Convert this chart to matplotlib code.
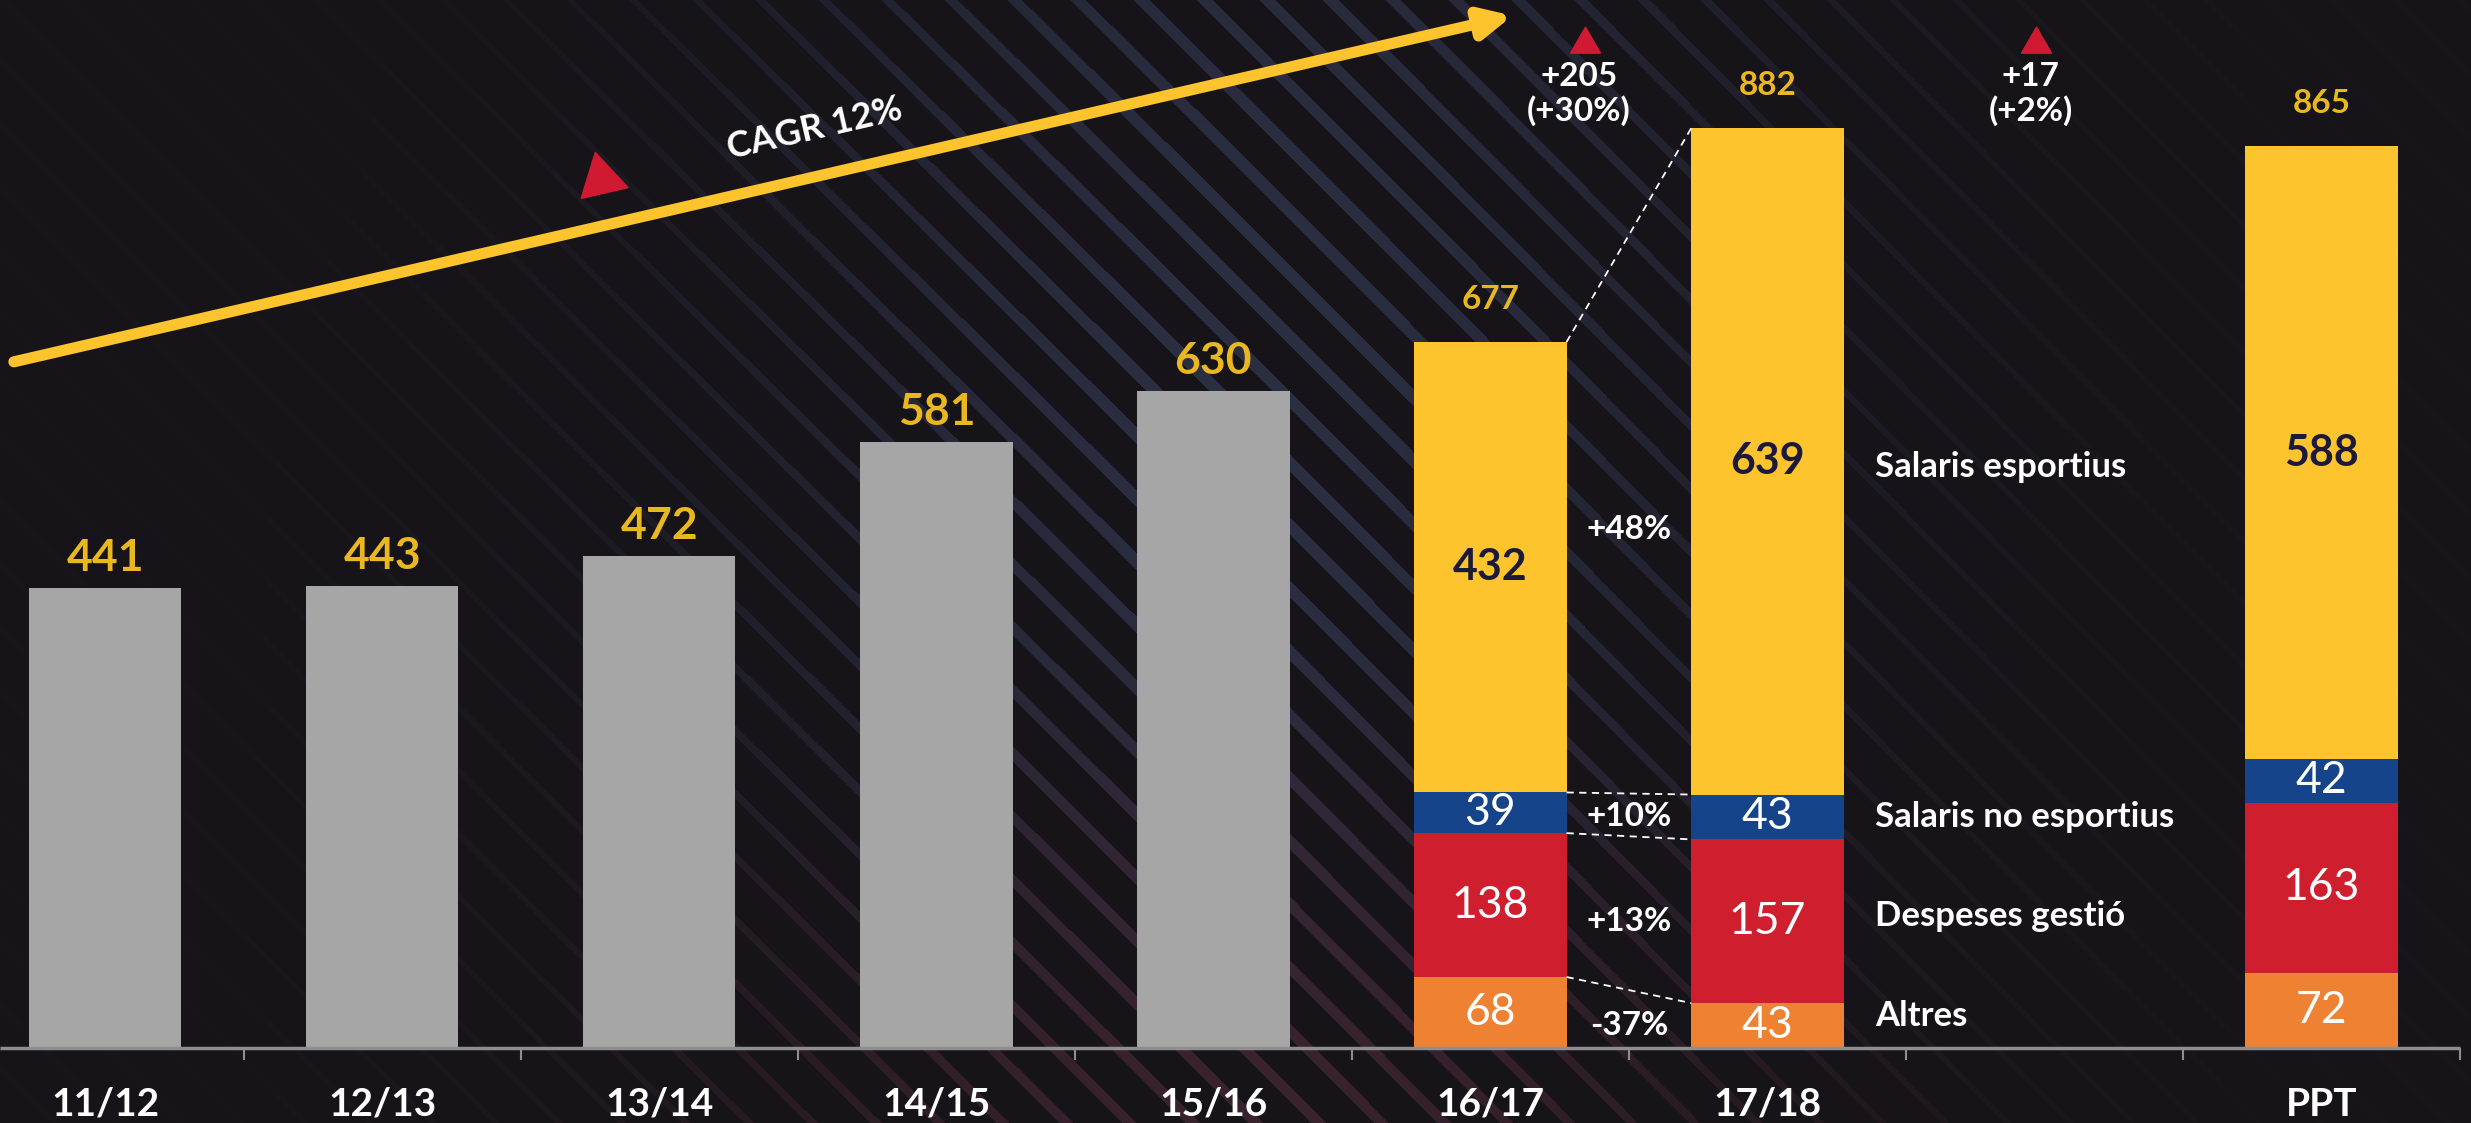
import numpy as np
import matplotlib
matplotlib.use('Agg')
import matplotlib.pyplot as plt
from matplotlib import font_manager

# fonts: narrow sans if present
names = set(f.name for f in font_manager.fontManager.ttflist)
FONT = 'Liberation Sans Narrow' if 'Liberation Sans Narrow' in names else 'Lato'
plt.rcParams['font.family'] = [FONT, 'DejaVu Sans']

# data
gray_seasons = ['11/12', '12/13', '13/14', '14/15', '15/16']
gray_vals = [441, 443, 472, 581, 630]

stack_seasons = ['16/17', '17/18', 'PPT']
sal_esportius = [432, 639, 588]
sal_no_esportius = [39, 43, 42]
despeses = [138, 157, 163]
altres = [68, 43, 72]
totals = [677, 882, 865]

cat_names = ['Salaris esportius', 'Salaris no esportius', 'Despeses gestió', 'Altres']
changes = ['+48%', '+10%', '+13%', '-37%']
diff_labels = [('+205', '(+30%)'), ('+17', '(+2%)')]
cagr_label = 'CAGR 12%'

# colors
BG = np.array([23, 21, 26]) / 255
GRAY = '#a6a6a6'
YELLOW = '#fdc42d'
BLUE = '#16448a'
RED = '#cf1f2e'
ORANGE = '#ee8132'
NAVY = '#1c1a3a'
LBL_YEL = '#e9b820'
TRI_RED = '#d01a32'

W, H = 2471, 1123
fig = plt.figure(figsize=(W / 100, H / 100), dpi=100)
fig.patch.set_facecolor(BG)
ax = fig.add_axes([0, 0, 1, 1])
XL = (-0.38, 8.54)
YL = (-72, 1005)
ax.set_xlim(XL)
ax.set_ylim(YL)
ax.axis('off')

# striped background (decoration only)
yy, xx = np.mgrid[0:H, 0:W]
inten = np.exp(-((xx - 1250) / 560.0) ** 2) * (0.75 + 0.25 * np.exp(-((yy - 400) / 500.0) ** 2))
inten = inten * (1 - 0.7 * np.exp(-((xx - 150) / 450.0) ** 2 - (yy / 400.0) ** 2))
stripe = (((xx - yy) % 63) < (5 + 12 * inten)).astype(float)
t = np.clip((yy - 650) / 400.0, 0, 1)[..., None]
col_b = np.array([44, 46, 66]) / 255
col_r = np.array([66, 38, 52]) / 255
scol = col_b * (1 - t) + col_r * t
img = BG + (stripe * inten)[..., None] * (scol - BG)
ax.imshow(img, extent=(XL[0], XL[1], YL[0], YL[1]), aspect='auto', zorder=0, origin='upper')

bw = 0.55
x_gray = np.arange(len(gray_vals))
x_stack = np.array([5, 6, 8])

ax.bar(x_gray, gray_vals, width=bw, color=GRAY, zorder=2)
for x, v in zip(x_gray, gray_vals):
    ax.text(x, v + 29, str(v), ha='center', va='center', color=LBL_YEL,
            fontsize=32, fontweight='bold', zorder=5)

segs = [altres, despeses, sal_no_esportius, sal_esportius]
cols = [ORANGE, RED, BLUE, YELLOW]
bottom = np.zeros(3)
centers = []
for vals, c in zip(segs, cols):
    vals = np.array(vals)
    ax.bar(x_stack, vals, width=bw, bottom=bottom, color=c, zorder=2)
    centers.append(bottom + vals / 2)
    for x, b, v in zip(x_stack, bottom, vals):
        if c == YELLOW:
            ax.text(x, b + v / 2, str(v), ha='center', va='center', color=NAVY,
                    fontsize=31, fontweight='bold', zorder=5)
        else:
            ax.text(x, b + v / 2, str(v), ha='center', va='center', color='white',
                    fontsize=32, zorder=5)
    bottom = bottom + vals

for x, v in zip(x_stack, totals):
    ax.text(x, v + 41, str(v), ha='center', va='center', color=LBL_YEL,
            fontsize=24, fontweight='bold', zorder=5)

# dashed connectors between 16/17 and 17/18
tops = np.cumsum(np.array(segs), axis=0)
x_r = x_stack[0] + bw / 2
x_l = x_stack[1] - bw / 2
for i in range(4):
    ax.plot([x_r, x_l], [tops[i][0], tops[i][1]], color='white', lw=1.3,
            dashes=(4, 3), zorder=3)

# change labels and category names
centers = centers[::-1]  # yellow, blue, red, orange
chg_y = [np.mean([centers[0][0], centers[0][1]]) - 15, centers[1][1], centers[2][1], centers[3][1]]
for lab, y in zip(changes, chg_y):
    ax.text(5.5, y, lab, ha='center', va='center', color='white', fontsize=24,
            fontweight='bold', zorder=5)
cat_y = [centers[0][1] - 5, centers[1][1], centers[2][1] + 5, centers[3][1] + 9]
for lab, y in zip(cat_names, cat_y):
    ax.text(6.39, y, lab, ha='left', va='center', color='white', fontsize=25,
            fontweight='bold', zorder=5)

# axis line, ticks and labels
ax.plot([XL[0], 8.5], [0, 0], color='#8e8e8e', lw=2.5, zorder=3, solid_capstyle='butt')
ax.vlines(np.arange(0.5, 8.6, 1.0), -12, 0, color='#8e8e8e', lw=1.5, zorder=3)
for x, lab in zip(list(x_gray) + list(x_stack), gray_seasons + stack_seasons):
    ax.text(x, -54, lab, ha='center', va='center', color='white', fontsize=28,
            fontweight='bold', zorder=5)

# top diff annotations
for (a, b), x in zip(diff_labels, [5.32, 6.95]):
    ax.plot(x + 0.02, 963, marker=(3, 0, 0), markersize=25, color=TRI_RED,
            linestyle='none', zorder=5)
    ax.text(x, 932, a, ha='center', va='center', color='white', fontsize=24,
            fontweight='bold', zorder=5)
    ax.text(x, 899, b, ha='center', va='center', color='white', fontsize=24,
            fontweight='bold', zorder=5)

# CAGR arrow
ax.annotate('', xy=(5.08, 990), xytext=(-0.33, 658),
            arrowprops=dict(arrowstyle='-|>,head_length=0.45,head_width=0.22',
                            lw=8, color=YELLOW, mutation_scale=40,
                            shrinkA=0, shrinkB=0), zorder=4)
ax.text(2.56, 882, cagr_label, ha='center', va='center', rotation=13,
        color='white', fontsize=26, fontweight='bold', zorder=5)
ax.plot(1.79, 833, marker=(3, 0, 13), markersize=40, color=TRI_RED,
        linestyle='none', zorder=5)

fig.savefig('out.png', dpi=100, facecolor=fig.get_facecolor())
